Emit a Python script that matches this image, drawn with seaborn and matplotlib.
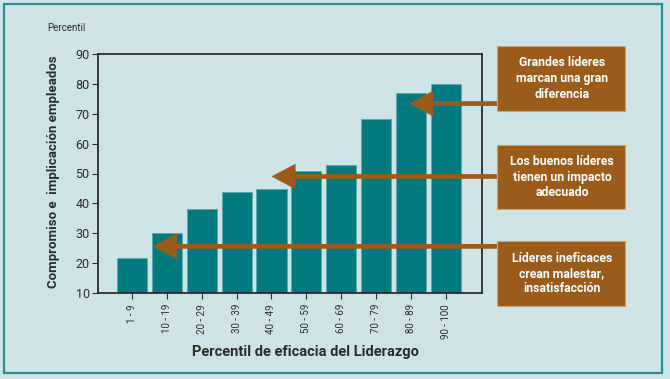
import matplotlib
matplotlib.use("Agg")
import matplotlib.pyplot as plt
from matplotlib.patches import Rectangle
import seaborn as sns
import pandas as pd

categories = ["1 - 9", "10 - 19", "20 - 29", "30 - 39", "40 - 49",
              "50 - 59", "60 - 69", "70 - 79", "80 - 89", "90 - 100"]
values = [21.6, 30.2, 38.1, 43.9, 44.8, 50.8, 52.7, 68.4, 76.8, 79.9]
yticks = [10, 20, 30, 40, 50, 60, 70, 80, 90]

box_texts = ["Grandes líderes\nmarcan una gran\ndiferencia",
             "Los buenos líderes\ntienen un impacto\nadecuado",
             "Líderes ineficaces\ncrean malestar,\ninsatisfacción"]
arrow_levels = [73.4, 49.0, 25.6]
arrow_tips = [7.94, 4.0, 0.6]

BG = "#cde3e5"
TEAL = "#007a7e"
BROWN = "#9b5b1a"
FRAME = "#2b8e95"
DARK = "#2b2b2b"

sns.set_theme(style="white")
plt.rcParams["font.family"] = ["Roboto", "DejaVu Sans"]

W, H = 670, 379
fig = plt.figure(figsize=(W / 100, H / 100), dpi=100, facecolor=BG)

def fx(px):
    return px / W

def fy(py):
    return 1 - py / H

ax = fig.add_axes([fx(98), fy(293), fx(482) - fx(98), fy(54) - fy(293)])
ax.set_facecolor(BG)

df = pd.DataFrame({"cat": categories, "val": values})
sns.barplot(data=df, x="cat", y="val", color=TEAL, saturation=1, width=0.86,
            edgecolor="#5fa9ab", linewidth=0.6, ax=ax)

ax.set_xlim(-0.97, 10.03)
ax.set_ylim(10, 90)
ax.set_yticks(yticks)
ax.set_yticklabels([str(v) for v in yticks], fontsize=9, color=DARK)
ax.set_xticks(range(len(categories)))
ax.set_xticklabels(categories, rotation=90, fontsize=7, color=DARK)
ax.tick_params(axis="both", direction="out", length=4, width=0.8, color=DARK,
               left=True, bottom=True, pad=2)
ax.tick_params(axis="x", pad=4)
ax.set_xlabel("")
ax.set_ylabel("")
for s in ax.spines.values():
    s.set_visible(True)
    s.set_color(DARK)
    s.set_linewidth(1.3)

# arrows
for lvl, tip in zip(arrow_levels, arrow_tips):
    ax.annotate("", xy=(tip, lvl), xytext=(10.6, lvl), xycoords="data",
                textcoords="data", annotation_clip=False,
                arrowprops=dict(arrowstyle="-|>,head_length=0.6,head_width=0.32",
                                mutation_scale=20, lw=3.4, color=BROWN,
                                shrinkA=0, shrinkB=0, joinstyle="miter",
                                capstyle="butt"), zorder=5)

# boxes
boxes = [(46, 111), (145, 209), (241, 306)]
for (top, bot), txt in zip(boxes, box_texts):
    fig.patches.append(Rectangle((fx(497), fy(bot)), fx(625) - fx(497), fy(top) - fy(bot),
                                 transform=fig.transFigure, facecolor=BROWN,
                                 edgecolor="#c9a475", linewidth=0.8, zorder=6))
    fig.text(fx(562), fy((top + bot) / 2), txt, ha="center", va="center",
             color="white", fontsize=8.8, fontweight="bold", linespacing=1.25,
             zorder=7)

# texts
fig.text(fx(47), fy(28), "Percentil", fontsize=7, color=DARK, ha="left", va="center")
fig.text(fx(54), fy(172), "Compromiso e  implicación empleados", rotation=90,
         fontsize=9.5, fontweight="bold", color=DARK, ha="center", va="center")
fig.text(fx(305), fy(352), "Percentil de eficacia del Liderazgo",
         fontsize=10.5, fontweight="bold", color=DARK, ha="center", va="center")

# outer frame
fig.patches.append(Rectangle((fx(4), fy(373)), fx(662) - fx(4), fy(4) - fy(373),
                             transform=fig.transFigure, fill=False,
                             edgecolor=FRAME, linewidth=1.6, zorder=10))

fig.savefig("out.png", dpi=100, facecolor=BG)
